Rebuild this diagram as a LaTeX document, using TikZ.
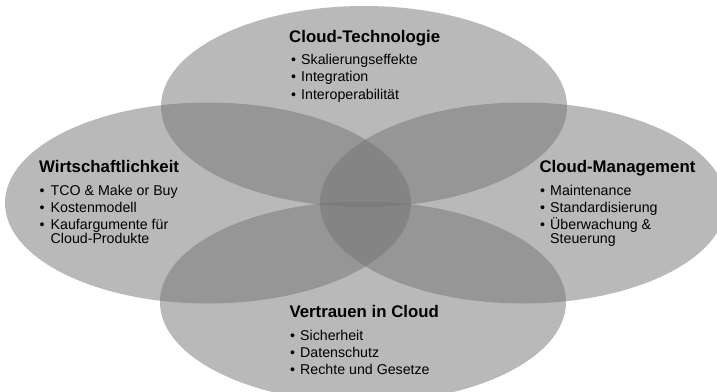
\documentclass[tikz,border=0pt]{standalone}
\usepackage{fontspec}
\setmainfont{Liberation Sans}
\definecolor{vfill}{RGB}{115,115,115}
\begin{document}
\begin{tikzpicture}[x=1pt,y=-1pt,
  venn/.style={fill=vfill, fill opacity=0.5},
  ttl/.style={font=\fontsize{16.8}{18}\selectfont\bfseries, anchor=base west, inner sep=0},
  itm/.style={font=\fontsize{14.2}{15}\selectfont, anchor=base west, inner sep=0},
  bul/.style={font=\fontsize{14.2}{15}\selectfont, anchor=base west, inner sep=0}]
\useasboundingbox (0,0) rectangle (717,391);
\clip (0,0) rectangle (717,391);
% ellipses
\path[venn] (364,106.5) ellipse [x radius=203pt, y radius=100.5pt];
\path[venn] (208,203) ellipse [x radius=203pt, y radius=100.5pt];
\path[venn] (523,203) ellipse [x radius=203pt, y radius=100.5pt];
\path[venn] (363,302) ellipse [x radius=203pt, y radius=100.5pt];
% top
\node[ttl] (t0) at (289,42) {Cloud-Technologie};
\node[bul] (tb1) at (291,64.5) {•};
\node[itm] (t1) at (301,64.5) {Skalierungseffekte};
\node[bul] (tb2) at (291,81.8) {•};
\node[itm] (t2) at (301,81.8) {Integration};
\node[bul] (tb3) at (291,99) {•};
\node[itm] (t3) at (301,99) {Interoperabilität};
% left
\node[ttl] (l0) at (39,172.7) {Wirtschaftlichkeit};
\node[bul] (lb1) at (39.5,195.3) {•};
\node[itm] (l1) at (50.5,195.3) {TCO \& Make or Buy};
\node[bul] (lb2) at (39.5,212) {•};
\node[itm] (l2) at (50.5,212) {Kostenmodell};
\node[bul] (lb3) at (39.5,229.3) {•};
\node[itm] (l3) at (50.5,229.3) {Kaufargumente für};
\node[itm] (l4) at (50.5,243.5) {Cloud-Produkte};
% right
\node[ttl] (r0) at (539.3,172.7) {Cloud-Management};
\node[bul] (rb1) at (540,195.3) {•};
\node[itm] (r1) at (550,195.3) {Maintenance};
\node[bul] (rb2) at (540,212) {•};
\node[itm] (r2) at (550,212) {Standardisierung};
\node[bul] (rb3) at (540,229.3) {•};
\node[itm] (r3) at (550,229.3) {Überwachung \&};
\node[itm] (r4) at (550,243.5) {Steuerung};
% bottom
\node[ttl] (b0) at (289.3,317.3) {Vertrauen in Cloud};
\node[bul] (bb1) at (290,340) {•};
\node[itm] (b1) at (300,340) {Sicherheit};
\node[bul] (bb2) at (290,357.3) {•};
\node[itm] (b2) at (300,357.3) {Datenschutz};
\node[bul] (bb3) at (290,374) {•};
\node[itm] (b3) at (300,374) {Rechte und Gesetze};
\end{tikzpicture}
\end{document}
